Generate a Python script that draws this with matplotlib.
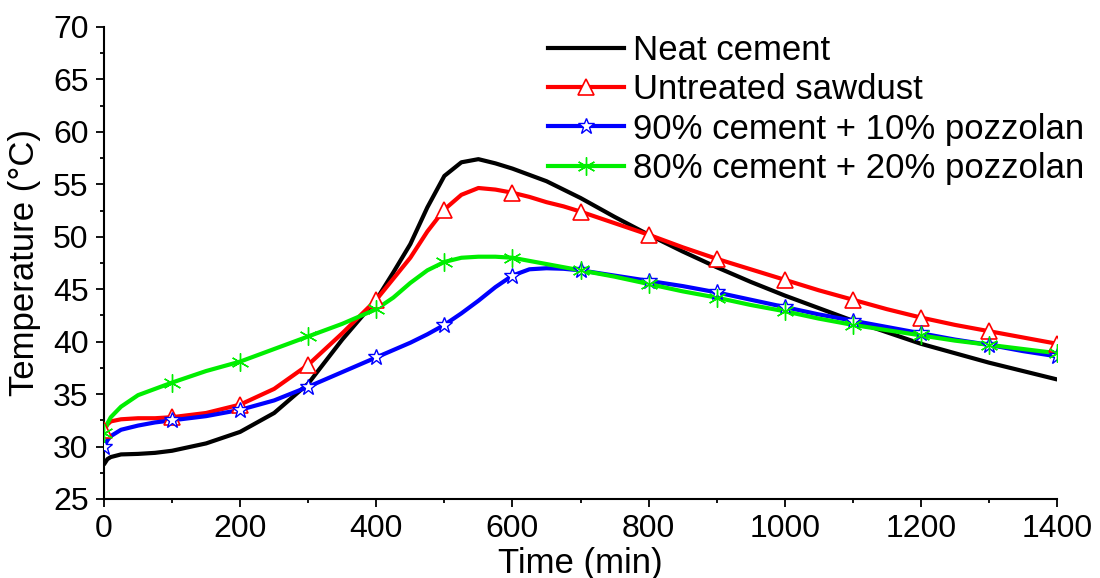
import matplotlib
matplotlib.use("Agg")
import matplotlib.pyplot as plt
from matplotlib.lines import Line2D
from matplotlib.ticker import MultipleLocator

plt.rcParams['font.family'] = ['Liberation Sans', 'DejaVu Sans']

time = [0, 5, 10, 25, 50, 75, 100, 150, 200, 250, 300, 350, 400, 425, 450, 475, 500,
        525, 550, 575, 600, 625, 650, 675, 700, 750, 800, 850, 900, 950, 1000, 1050,
        1100, 1150, 1200, 1250, 1300, 1350, 1400]

neat_cement = [28.3, 28.8, 29.0, 29.25, 29.3, 29.4, 29.6, 30.3, 31.4, 33.2, 36.0, 40.2,
               44.0, 46.6, 49.3, 52.8, 55.8, 57.1, 57.4, 57.0, 56.5, 55.9, 55.3, 54.5,
               53.7, 51.9, 50.2, 48.6, 47.1, 45.7, 44.4, 43.2, 42.0, 40.9, 39.8, 38.9,
               38.0, 37.2, 36.4]
untreated = [31.6, 32.1, 32.4, 32.6, 32.7, 32.7, 32.8, 33.2, 34.0, 35.5, 37.8, 40.8,
             44.0, 46.0, 48.0, 50.5, 52.6, 54.0, 54.65, 54.5, 54.2, 53.8, 53.3, 52.9,
             52.4, 51.3, 50.2, 49.0, 47.9, 46.9, 45.9, 44.9, 44.0, 43.1, 42.3, 41.6,
             41.0, 40.4, 39.8]
pozz10 = [30.0, 30.6, 31.0, 31.6, 32.0, 32.3, 32.5, 32.9, 33.5, 34.4, 35.7, 37.1,
          38.5, 39.2, 39.9, 40.7, 41.6, 42.7, 43.9, 45.2, 46.3, 46.9, 47.0, 46.95,
          46.8, 46.3, 45.8, 45.3, 44.7, 44.0, 43.3, 42.6, 42.0, 41.4, 40.8, 40.2,
          39.7, 39.1, 38.6]
pozz20 = [31.3, 32.2, 32.8, 33.8, 34.9, 35.5, 36.1, 37.2, 38.1, 39.3, 40.5, 41.7,
          43.1, 44.2, 45.6, 46.8, 47.6, 48.0, 48.1, 48.1, 48.0, 47.7, 47.4, 47.1,
          46.8, 46.2, 45.5, 44.8, 44.2, 43.5, 42.9, 42.2, 41.6, 41.1, 40.6, 40.1,
          39.7, 39.3, 38.9]

labels = ["Neat cement", "Untreated sawdust", "90% cement + 10% pozzolan",
          "80% cement + 20% pozzolan"]

fig = plt.figure(figsize=(11, 5.78), dpi=100)
ax = fig.add_axes([104/1100, 1-499/578, (1057-104)/1100, (499-27)/578])

mark_idx = [i for i, t in enumerate(time) if t % 100 == 0]

LW = 3.0
series = [
    (neat_cement, 'black', None, {}),
    (untreated, 'red', '^', dict(markersize=12, markerfacecolor='white', markeredgecolor='red', markeredgewidth=1.2)),
    (pozz10, 'blue', '*', dict(markersize=12, markerfacecolor='white', markeredgecolor='blue', markeredgewidth=1.0)),
    (pozz20, '#00ee00', (6, 2, 0), dict(markersize=13, markeredgecolor='#00ee00', markeredgewidth=1.0)),
]

handles = []
for (vals, col, mk, mkw), lab in zip(series, labels):
    ax.plot(time, vals, color=col, lw=LW, solid_capstyle='round',
            solid_joinstyle='round', zorder=2)
    if mk is not None:
        ax.plot([time[i] for i in mark_idx], [vals[i] for i in mark_idx],
                linestyle='none', marker=mk, zorder=3, **mkw)
        handles.append(Line2D([], [], color=col, lw=LW, marker=mk, **mkw))
    else:
        handles.append(Line2D([], [], color=col, lw=LW))

ax.set_xlim(0, 1400)
ax.set_ylim(25, 70)
ax.xaxis.set_major_locator(MultipleLocator(200))
ax.xaxis.set_minor_locator(MultipleLocator(100))
ax.yaxis.set_major_locator(MultipleLocator(5))
ax.yaxis.set_minor_locator(MultipleLocator(2.5))
ax.tick_params(which='major', direction='out', length=6, width=1.3, labelsize=23, pad=5)
ax.tick_params(which='minor', direction='out', length=3, width=1.3)
for s in ['top', 'right']:
    ax.spines[s].set_visible(False)
for s in ['left', 'bottom']:
    ax.spines[s].set_linewidth(1.5)

ax.set_xlabel("Time (min)", fontsize=25, labelpad=2)
ax.set_ylabel("Temperature (°C)", fontsize=25, labelpad=9)

fig.legend(handles=handles, labels=labels, loc='upper left',
           bbox_to_anchor=(548/1100, 1-34/578), frameon=False, fontsize=25,
           handlelength=2.2, handletextpad=0.25, labelspacing=0.18,
           borderpad=0, borderaxespad=0)

fig.savefig("out.png", dpi=100)
